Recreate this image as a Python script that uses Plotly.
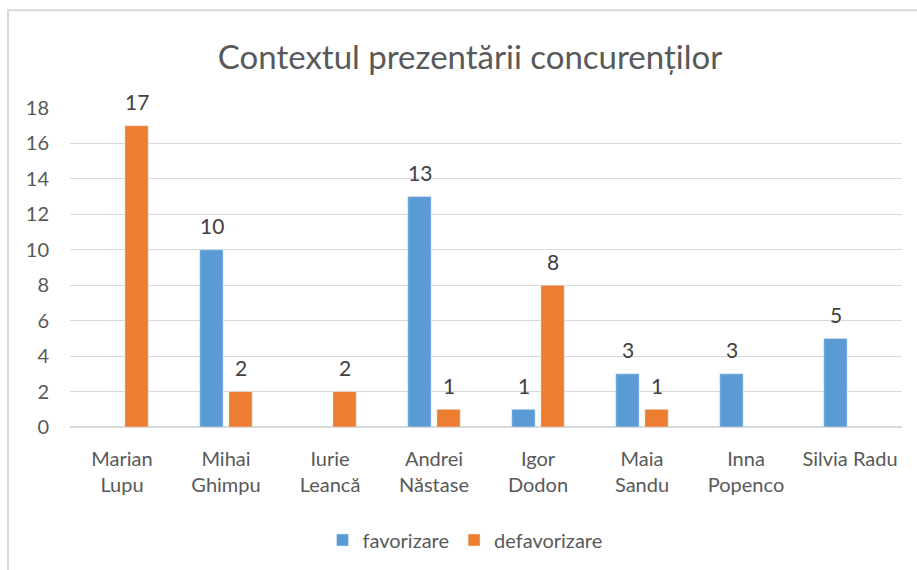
import plotly.graph_objects as go

categories = ["Marian<br>Lupu", "Mihai<br>Ghimpu", "Iurie<br>Leancă", "Andrei<br>Năstase",
              "Igor<br>Dodon", "Maia<br>Sandu", "Inna<br>Popenco", "Silvia Radu"]
favorizare = [None, 10, None, 13, 1, 3, 3, 5]
defavorizare = [17, 2, 2, 1, 8, 1, None, None]
y_ticks = [0, 2, 4, 6, 8, 10, 12, 14, 16, 18]

FONT = "Lato, 'Open Sans', sans-serif"
W, H = 917, 570
L, R, T, B = 70, 15, 108, 142
pw, ph = W - L - R, H - T - B

def px_x(x):
    return (x - L) / pw

def px_y(y):
    return (H - B - y) / ph

series = [("favorizare", favorizare, "#5B9BD5", -14.5),
          ("defavorizare", defavorizare, "#ED7D31", 14.5)]

fig = go.Figure()
annotations = []
for name, values, color, shift in series:
    fig.add_bar(x=categories, y=values, name=name, marker_color=color)
    # value labels sit a little above each bar
    for cat, v in zip(categories, values):
        if v is None:
            continue
        annotations.append(dict(x=cat, y=v, xref="x", yref="y", text=str(v),
                                showarrow=False, xshift=shift, yshift=24,
                                yanchor="middle", xanchor="center",
                                font=dict(family=FONT, size=21, color="#404040")))

fig.update_layout(
    width=W, height=H,
    margin=dict(l=L, r=R, t=T, b=B),
    paper_bgcolor="white", plot_bgcolor="white",
    barmode="group", bargap=0.44, bargroupgap=0.2,
    title=dict(text="Contextul prezentării concurenților", xref="container", x=470 / W,
               xanchor="center", y=1 - 57 / H, yanchor="middle",
               font=dict(family=FONT, size=33, color="#595959")),
    font=dict(family=FONT, color="#595959", size=20),
    legend=dict(orientation="h", x=px_x(465), xanchor="center", y=px_y(540), yanchor="middle",
                font=dict(size=20, color="#595959", family=FONT), itemwidth=30,
                traceorder="normal"),
    showlegend=True,
    annotations=annotations,
    shapes=[dict(type="rect", xref="paper", yref="paper",
                 x0=px_x(8), x1=px_x(960), y0=px_y(10), y1=px_y(620),
                 line=dict(color="#d9d9d9", width=2), fillcolor="rgba(0,0,0,0)", layer="below")],
)
fig.update_yaxes(range=[0, 18], tickvals=y_ticks, showgrid=True, gridcolor="#d9d9d9",
                 gridwidth=1, zeroline=True, zerolinecolor="#d9d9d9", showline=False,
                 ticks="", tickfont=dict(size=20, color="#595959"), ticklabelstandoff=20)
fig.update_xaxes(showgrid=False, showline=False, ticks="",
                 tickfont=dict(size=20, color="#595959"), ticklabelstandoff=18)

fig.write_html("out.html")
